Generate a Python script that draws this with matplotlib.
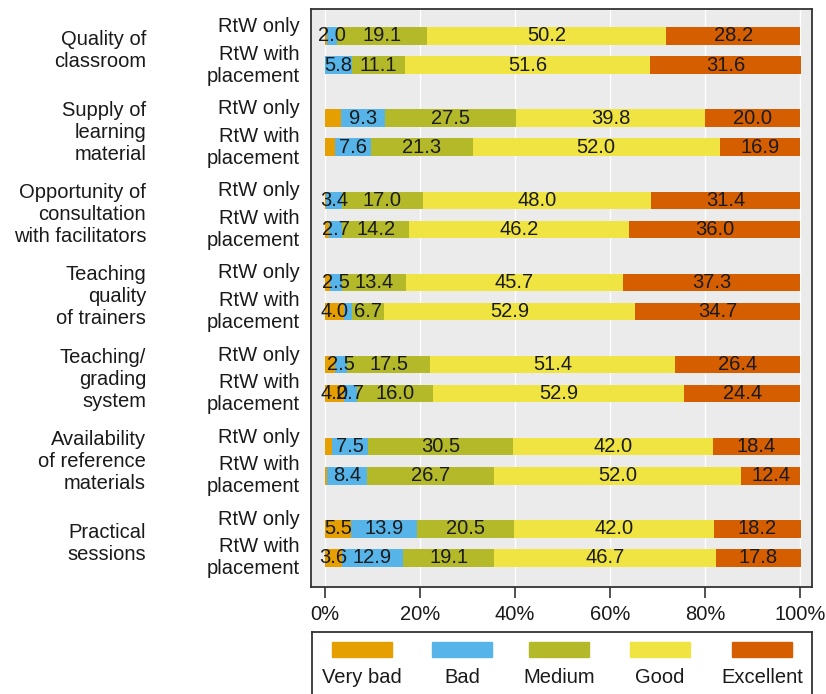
import matplotlib
matplotlib.use("Agg")
import matplotlib.pyplot as plt
from matplotlib.patches import Rectangle
import numpy as np

plt.rcParams['font.family'] = ['Liberation Sans', 'DejaVu Sans']

categories = ["Quality of\nclassroom",
              "Supply of\nlearning\nmaterial",
              "Opportunity of\nconsultation\nwith facilitators",
              "Teaching\nquality\nof trainers",
              "Teaching/\ngrading\nsystem",
              "Availability\nof reference\nmaterials",
              "Practical\nsessions"]
groups = ["RtW only", "RtW with\nplacement"]
levels = ["Very bad", "Bad", "Medium", "Good", "Excellent"]
colors = ["#E69F00", "#56B4E9", "#B3B928", "#F0E442", "#D55E00"]

# rows: (category, group) in order; columns: Very bad, Bad, Medium, Good, Excellent
very_bad  = [0.5, 0.0, 3.4, 2.2, 0.2, 0.9, 1.1, 4.0, 2.2, 4.0, 1.6, 0.5, 5.5, 3.6]
bad       = [2.0, 5.8, 9.3, 7.6, 3.4, 2.7, 2.5, 1.7, 2.5, 2.7, 7.5, 8.4, 13.9, 12.9]
medium    = [19.1, 11.1, 27.5, 21.3, 17.0, 14.2, 13.4, 6.7, 17.5, 16.0, 30.5, 26.7, 20.5, 19.1]
good      = [50.2, 51.6, 39.8, 52.0, 48.0, 46.2, 45.7, 52.9, 51.4, 52.9, 42.0, 52.0, 42.0, 46.7]
excellent = [28.2, 31.6, 20.0, 16.9, 31.4, 36.0, 37.3, 34.7, 26.4, 24.4, 18.4, 12.4, 18.2, 17.8]
# whether the value label is printed on the segment
show_very_bad = [False, False, False, False, False, False, False, True, False, True, False, False, True, True]
show_bad      = [True, True, True, True, True, True, True, False, True, True, True, True, True, True]

series = [very_bad, bad, medium, good, excellent]
shows = [show_very_bad, show_bad] + [[True] * 14] * 3

FS = 14.5
TXT = "#1a1a1a"

fig = plt.figure(figsize=(8.26, 6.94), dpi=100)
ax = fig.add_axes([311 / 826, 1 - 587 / 694, 501 / 826, 578 / 694])
ax.set_facecolor("#EBEBEB")

gap = 2.83
ypos = []
for g in range(len(categories)):
    for i in range(len(groups)):
        ypos.append(g * gap + i)
ypos = np.array(ypos)

left = np.zeros(len(ypos))
for vals, col, sh in zip(series, colors, shows):
    vals = np.array(vals)
    ax.barh(ypos, vals, left=left, height=0.6, color=col, edgecolor="none", zorder=2)
    for y, l, v, s in zip(ypos, left, vals, sh):
        if s:
            ax.text(l + v / 2, y, f"{v:.1f}", ha="center", va="center",
                    fontsize=FS, color=TXT, zorder=3)
    left += vals

ax.set_xlim(-2.9, 102.5)
ax.set_ylim(ypos[-1] + 1.0, -0.93)
ax.set_xticks([0, 20, 40, 60, 80, 100])
ax.set_xticklabels(["0%", "20%", "40%", "60%", "80%", "100%"], fontsize=FS, color=TXT)
ax.xaxis.grid(True, color="white", linewidth=1.0, zorder=0)
ax.set_axisbelow(True)
ax.tick_params(axis="x", length=8, width=1.2, color="#333333", pad=5)
ax.set_yticks([])
for sp in ax.spines.values():
    sp.set_color("#333333")
    sp.set_linewidth(1.3)

ytr = ax.get_yaxis_transform()
for k, y in enumerate(ypos):
    gi = k % 2
    off = -0.33 if gi == 0 else 0.0
    ax.text(-0.022, y + off, groups[gi], transform=ytr, ha="right", va="center",
            fontsize=FS, color=TXT, linespacing=1.2)

for g, cat in enumerate(categories):
    yc = g * gap + 0.5
    ax.text(-0.329, yc, cat, transform=ytr, ha="right", va="center",
            fontsize=FS, color=TXT, linespacing=1.2)

# legend
lax = fig.add_axes([312 / 826, -0.01, 500 / 826, (694 - 632) / 694 + 0.01])
lax.set_xlim(312, 812)
lax.set_ylim(694 + 7, 632)
lax.set_xticks([])
lax.set_yticks([])
for sp in lax.spines.values():
    sp.set_color("#333333")
    sp.set_linewidth(1.3)
centers = [362, 462, 559, 660, 762]
for c, col, lab in zip(centers, colors, levels):
    lax.add_patch(Rectangle((c - 30, 642), 60, 15, color=col))
    lax.text(c, 678, lab, ha="center", va="center", fontsize=FS, color=TXT)

fig.savefig("out.png", dpi=100)
